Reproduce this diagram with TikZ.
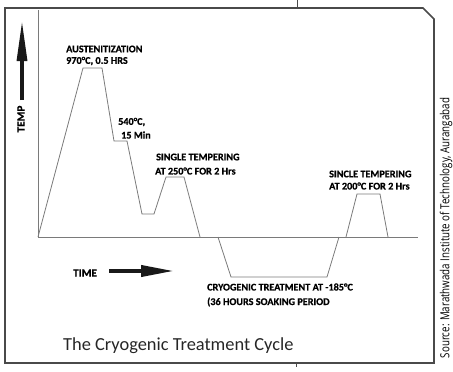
\documentclass[tikz,border=0pt]{standalone}
\usepackage{fontspec}
\usepackage{graphicx}
\setmainfont{Carlito}[BoldFeatures={FakeBold=0.6}]
\usetikzlibrary{arrows.meta}
\definecolor{framegray}{HTML}{4A4A4A}
\definecolor{linegray}{HTML}{7A7A7A}
\tikzset{
  lbl/.style={anchor=west, inner sep=0pt, font=\fontsize{10.2}{12}\selectfont\bfseries, text=black},
  axlbl/.style={inner sep=0pt, font=\fontsize{11.2}{13}\selectfont\bfseries, text=black},
  prof/.style={draw=linegray, line width=0.8pt, line join=miter},
  bigarrow/.style={line width=3.8pt, draw=black!90}
}
\begin{document}
\begin{tikzpicture}[x=1pt,y=-1pt]
\useasboundingbox (0,0) rectangle (453,372);
% frame
\draw[framegray, line width=1.6pt] (5,8) -- (423,8) -- (434,19) -- (434,363) -- (5,363) -- cycle;
\draw[framegray, line width=1pt] (297,0) -- (297,8);
\draw[framegray, line width=0.8pt] (296,363) -- (296,367);
% axes
\coordinate (yaxtop) at (38,10);
\coordinate (origin) at (38,237);
\coordinate (xend) at (418,237);
\draw[prof] (yaxtop) -- (origin) -- (xend);
% profile
\coordinate (p1) at (83,68);
\coordinate (p2) at (102,68);
\coordinate (p3) at (114,141);
\coordinate (p4) at (127,141);
\coordinate (p5) at (142,214);
\coordinate (p6) at (154,214);
\coordinate (p7) at (166,177);
\coordinate (p8) at (184,177);
\coordinate (p9) at (200,237);
\draw[prof] (origin) -- (p1) -- (p2) -- (p3) -- (p4) -- (p5) -- (p6) -- (p7) -- (p8) -- (p9);
\coordinate (c1) at (218,237);
\coordinate (c2) at (231,277);
\coordinate (c3) at (327,277);
\coordinate (c4) at (339,237);
\draw[prof] (c1) -- (c2) -- (c3) -- (c4);
\coordinate (t1) at (346,237);
\coordinate (t2) at (357,194);
\coordinate (t3) at (380,194);
\coordinate (t4) at (388,237);
\draw[prof] (t1) -- (t2) -- (t3) -- (t4);
% labels
\node[lbl] (aus) at (66,49) {AUSTENITIZATION};
\node[lbl] (aus2) at (66,61) {970°C, 0.5 HRS};
\node[lbl] (q1) at (118,122) {540°C,};
\node[lbl] (q2) at (121,135) {15 Min};
\node[lbl] (st1) at (156,157) {SINGLE TEMPERING};
\node[lbl] (st2) at (155,171) {AT 250°C FOR 2 Hrs};
\node[lbl] (sc1) at (329,174) {SINCLE TEMPERING};
\node[lbl] (sc2) at (329,186) {AT 200°C FOR 2 Hrs};
\node[lbl] (cr1) at (207,287) {CRYOGENIC TREATMENT AT -185°C};
\node[lbl] (cr2) at (207,302) {(36 HOURS SOAKING PERIOD};
% axis arrows
\node[axlbl, anchor=west] (time) at (73,273) {TIME};
\coordinate (ta) at (109,271);
\coordinate (tb) at (174,271);
\draw[bigarrow, -{Triangle[length=33pt,width=11pt]}] (ta) -- (tb);
\node[axlbl, anchor=center, rotate=90] (temp) at (21,119) {TEMP};
\coordinate (va) at (22,100);
\coordinate (vb) at (22,21);
\draw[bigarrow, line width=3.2pt, -{Triangle[length=40pt,width=10pt]}] (va) -- (vb);
% title
\node[anchor=west, inner sep=0pt, font=\fontsize{18.4}{22}\selectfont, text=black!85] (title) at (63,346) {The Cryogenic Treatment Cycle};
% source
\node[anchor=center, inner sep=0pt, rotate=90, font=\fontsize{12.5}{14}\selectfont] (src) at (446,228) {\scalebox{0.78}[1]{\fontspec{Open Sans}Source: Marathwada Institute of Technology, Aurangabad}};
\end{tikzpicture}
\end{document}
